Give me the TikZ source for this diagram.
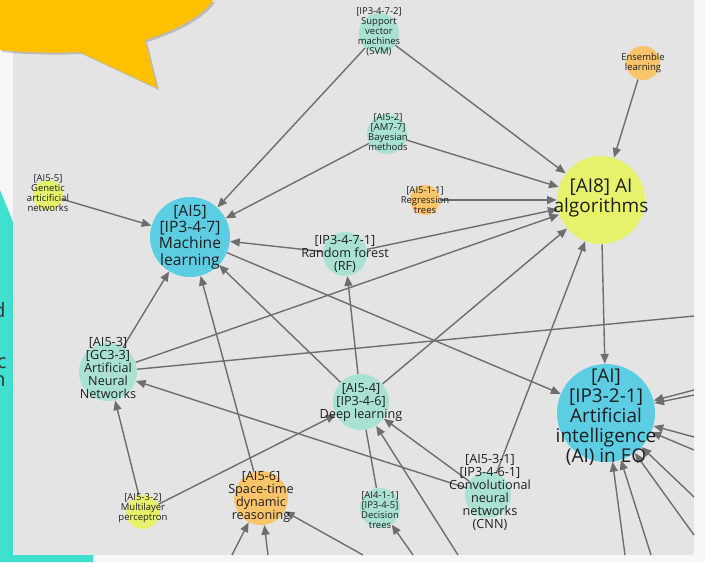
\documentclass[tikz,border=0pt]{standalone}
\usepackage{fontspec}
\setmainfont{Open Sans}
\usetikzlibrary{arrows.meta}

\definecolor{canvasgray}{HTML}{E4E4E4}
\definecolor{paperwhite}{HTML}{F7F7F7}
\definecolor{panelteal}{HTML}{40E0D0}
\definecolor{bubbleamber}{HTML}{FFC000}
\definecolor{mintnode}{HTML}{A9E2D3}
\definecolor{cyannode}{HTML}{5CCDE3}
\definecolor{limenode}{HTML}{E6F26C}
\definecolor{peachnode}{HTML}{F9C46A}
\definecolor{edgegray}{HTML}{6E6E6E}
\definecolor{labelink}{HTML}{1E1E1E}

\begin{document}
\begin{tikzpicture}[
    x=0.02cm, y=-0.02cm,
    topic/.style={circle, inner sep=0pt, minimum size={#1*0.04cm}},
    mint/.style={topic=#1, fill=mintnode},
    cyan/.style={topic=#1, fill=cyannode},
    lime/.style={topic=#1, fill=limenode},
    peach/.style={topic=#1, fill=peachnode},
    tinylabel/.style={align=center, inner sep=0pt, text=labelink,
        font=\fontsize{5.4}{5.7}\selectfont},
    midlabel/.style={align=center, inner sep=0pt, text=labelink,
        font=\fontsize{7.2}{7.4}\selectfont},
    mllabel/.style={align=center, inner sep=0pt, text=labelink,
        font=\fontsize{8.9}{9.35}\selectfont},
    biglabel/.style={align=center, inner sep=0pt, text=labelink,
        font=\fontsize{10.8}{11.3}\selectfont},
    link/.style={draw=edgegray, line width=0.8pt,
        -{Triangle[length=5.5pt,width=4.6pt]}},
    wire/.style={draw=edgegray, line width=0.8pt}
]
\useasboundingbox (0,0) rectangle (705,562);

% Page, side panel and canvas
\fill[paperwhite] (0,0) rectangle (705,562);
\fill[panelteal] (0,190) -- (13,222) -- (93,222) -- (93,562) -- (0,562) -- cycle;
\node[anchor=base east, inner sep=0pt, text=black!80,
    font=\fontsize{11.3}{12}\selectfont] (letd) at (6,317) {d};
\node[anchor=base east, inner sep=0pt, text=black!80,
    font=\fontsize{11.3}{12}\selectfont] (letc) at (7,368) {c};
\node[anchor=base east, inner sep=0pt, text=black!80,
    font=\fontsize{11.3}{12}\selectfont] (letn) at (6,386) {n};
\fill[canvasgray] (13,0) rectangle (694,555);

% Speech bubble
\fill[black, opacity=0.18, shift={(2,2)}] (0,0) -- (0,50)
    .. controls (30,53) and (60,53) .. (80,52) -- (157,88) -- (145,40)
    .. controls (178,30) and (205,14) .. (213,0) -- cycle;
\fill[bubbleamber] (0,0) -- (0,50)
    .. controls (30,53) and (60,53) .. (80,52) -- (157,88) -- (145,40)
    .. controls (178,30) and (205,14) .. (213,0) -- cycle;

% Topic circles
\node[mint=20] (svm) at (379,33) {};
\node[peach=17] (ens) at (643,63) {};
\node[mint=20] (bay) at (387,134) {};
\node[lime=44] (alg) at (601,200) {};
\node[peach=15] (reg) at (425,200) {};
\node[lime=15] (gen) at (48,195) {};
\node[cyan=40] (ml) at (190,237) {};
\node[mint=22] (rf) at (345,254) {};
\node[mint=29] (ann) at (108,372) {};
\node[mint=28] (dl) at (361,402) {};
\node[cyan=49] (aieo) at (606,413) {};
\node[peach=27] (st) at (261,498) {};
\node[lime=17] (mlp) at (143,512) {};
\node[mint=20] (dt) at (380,508) {};
\node[mint=23] (cnn) at (488,495) {};

% Free ends at the canvas border
\coordinate (outR1) at (694,316);
\coordinate (outR2) at (694,390);
\coordinate (outR3) at (694,395);
\coordinate (outR4) at (694,437);
\coordinate (outR5) at (694,450);
\coordinate (outR6) at (694,497);
\coordinate (outR7) at (694,535);
\coordinate (outB1) at (232,555);
\coordinate (outB2) at (268,555);
\coordinate (outB3) at (363,555);
\coordinate (outB4) at (413,555);
\coordinate (outB5) at (458,555);
\coordinate (outB6) at (625,555);
\coordinate (outB7) at (651,555);

% Connectors
\draw[link] (svm) -- (ml);
\draw[link] (svm) -- (alg);
\draw[link] (ens) -- (alg);
\draw[link] (bay) -- (ml);
\draw[link] (bay) -- (alg);
\draw[link] (reg) -- (alg);
\draw[link] (gen) -- (ml);
\draw[link] (rf) -- (ml);
\draw[link] (rf) -- (alg);
\draw[link] (ml) -- (aieo);
\draw[link] (dl) -- (ml);
\draw[link] (st) -- (ml);
\draw[link] (ann) -- (ml);
\draw[link] (ann) -- (alg);
\draw[wire] (ann) -- (outR1);
\draw[link] (cnn) -- (ann);
\draw[link] (cnn) -- (dl);
\draw[link] (cnn) -- (alg);
\draw[link] (mlp) -- (ann);
\draw[link] (mlp) -- (dl);
\draw[link] (dl) -- (rf);
\draw[link] (dl) -- (alg);
\draw[wire] (dt) -- (dl);
\draw[link] (alg) -- (aieo);
\draw[link] (outB1) -- (st);
\draw[link] (outB2) -- (st);
\draw[link] (outB3) -- (st);
\draw[link] (outB4) -- (dt);
\draw[link] (outB5) -- (dl);
\draw[link] (outB6) -- (aieo);
\draw[link] (outB7) -- (aieo);
\foreach \edge in {outR2,outR3,outR4,outR5,outR6,outR7}
    \draw[link] (\edge) -- (aieo);

% Labels
\node[tinylabel] (svm-t) at (379,32) {[IP3-4-7-2]\\Support\\vector\\machines\\(SVM)};
\node[tinylabel] (ens-t) at (643,63) {Ensemble\\learning};
\node[tinylabel] (bay-t) at (388,132) {[AI5-2]\\{[AM7-7]}\\Bayesian\\methods};
\node[biglabel] (alg-t) at (601,198) {[AI8] AI\\algorithms};
\node[tinylabel] (reg-t) at (425,200) {[AI5-1-1]\\Regression\\trees};
\node[tinylabel] (gen-t) at (48,193) {[AI5-5]\\Genetic\\articificial\\networks};
\node[mllabel] (ml-t) at (190,237) {[AI5]\\{[IP3-4-7]}\\Machine\\learning};
\node[midlabel] (rf-t) at (345,254) {[IP3-4-7-1]\\Random forest\\(RF)};
\node[midlabel] (ann-t) at (108,368) {[AI5-3]\\{[GC3-3]}\\Artificial\\Neural\\Networks};
\node[midlabel] (dl-t) at (361,402) {[AI5-4]\\{[IP3-4-6]}\\Deep learning};
\node[biglabel] (aieo-t) at (606,417) {[AI]\\{[IP3-2-1]}\\Artificial\\intelligence\\(AI) in EO};
\node[midlabel] (st-t) at (261,497) {[AI5-6]\\Space-time\\dynamic\\reasoning};
\node[tinylabel] (mlp-t) at (143,508) {[AI5-3-2]\\Multilayer\\perceptron};
\node[tinylabel] (dt-t) at (380,510) {[AI4-1-1]\\{[IP3-4-5]}\\Decision\\trees};
\node[midlabel] (cnn-t) at (490,492) {[AI5-3-1]\\{[IP3-4-6-1]}\\Convolutional\\neural\\networks\\(CNN)};

\end{tikzpicture}
\end{document}
